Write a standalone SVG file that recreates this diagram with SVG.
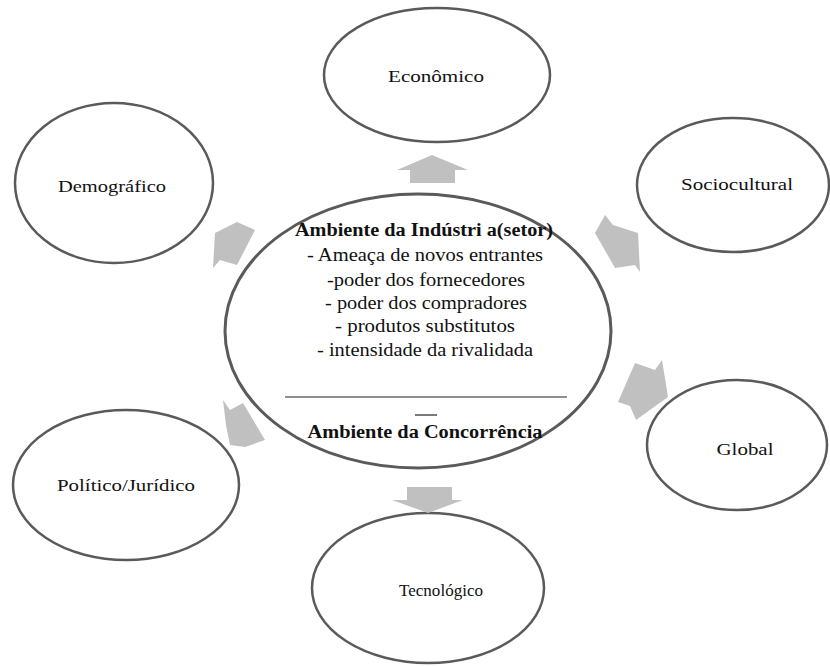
<svg xmlns="http://www.w3.org/2000/svg" width="830" height="666" viewBox="0 0 830 666">
<style>
.node{fill:#fff;stroke:#5a5a5a;stroke-width:2.5}
.center{fill:#fff;stroke:#5a5a5a;stroke-width:3}
text{fill:#111;text-anchor:middle}
.lbl{font-size:17px}
.ct{font-size:18px}
.b{font-weight:bold}
.arr{fill:#c0c0c0;stroke:none}
</style>
<rect width="830" height="666" fill="#fff"/>
<g font-family="Liberation Serif, Times New Roman, serif">
<g id="economico"><ellipse class="node" cx="437" cy="75" rx="113" ry="67"/><text class="lbl" x="436" y="82" textLength="96" lengthAdjust="spacingAndGlyphs">Econômico</text></g>
<g id="demografico"><ellipse class="node" cx="114" cy="183" rx="99" ry="80"/><text class="lbl" x="112" y="192" textLength="108" lengthAdjust="spacingAndGlyphs">Demográfico</text></g>
<g id="sociocultural"><ellipse class="node" cx="733" cy="185" rx="96" ry="67"/><text class="lbl" x="737" y="190" textLength="112" lengthAdjust="spacingAndGlyphs">Sociocultural</text></g>
<g id="global"><ellipse class="node" cx="737" cy="445" rx="90" ry="65"/><text class="lbl" x="745" y="455" textLength="57" lengthAdjust="spacingAndGlyphs">Global</text></g>
<g id="politico"><ellipse class="node" cx="126" cy="485" rx="113" ry="75"/><text class="lbl" x="126" y="491" textLength="138" lengthAdjust="spacingAndGlyphs">Político/Jurídico</text></g>
<g id="tecnologico"><ellipse class="node" cx="428" cy="588" rx="116" ry="75"/><text class="lbl" x="441" y="596" textLength="84" lengthAdjust="spacingAndGlyphs">Tecnológico</text></g>
<g id="connectors">
<polygon class="arr" points="432,155 468,170 455,170 455,183 410,183 410,170 397,170"/>
<polygon class="arr" points="428,513 463,500 452,500 452,487 407,487 407,500 392,500"/>
<polygon class="arr" points="215,233 237,222 255,230 237,265 220,260 213,268"/>
<polygon class="arr" points="605,215 613,225 638,233 640,272 635,265 615,268 595,233"/>
<polygon class="arr" points="635,363 655,370 662,360 668,397 636,420 630,406 618,402"/>
<polygon class="arr" points="223,400 230,410 243,403 265,440 245,447 230,445 226,425"/>
</g>
<g id="industria">
<ellipse class="center" cx="418" cy="331" rx="193" ry="137"/>
<text class="ct b" x="424" y="236" textLength="258" lengthAdjust="spacingAndGlyphs">Ambiente da Indústri a(setor)</text>
<text class="ct" x="425" y="261" textLength="236" lengthAdjust="spacingAndGlyphs">- Ameaça  de novos entrantes</text>
<text class="ct" x="426" y="286" textLength="198" lengthAdjust="spacingAndGlyphs">-poder dos fornecedores</text>
<text class="ct" x="426" y="309" textLength="202" lengthAdjust="spacingAndGlyphs">- poder dos compradores</text>
<text class="ct" x="425" y="332" textLength="180" lengthAdjust="spacingAndGlyphs">- produtos substitutos</text>
<text class="ct" x="425" y="356" textLength="216" lengthAdjust="spacingAndGlyphs">- intensidade da rivalidada</text>
<line x1="285" y1="397" x2="567" y2="397" stroke="#222" stroke-width="1.2"/>
<line x1="415" y1="415" x2="437" y2="415" stroke="#222" stroke-width="1.2"/>
<text class="ct b" x="425" y="438" textLength="235" lengthAdjust="spacingAndGlyphs">Ambiente da Concorrência</text>
</g>
</g>
</svg>
